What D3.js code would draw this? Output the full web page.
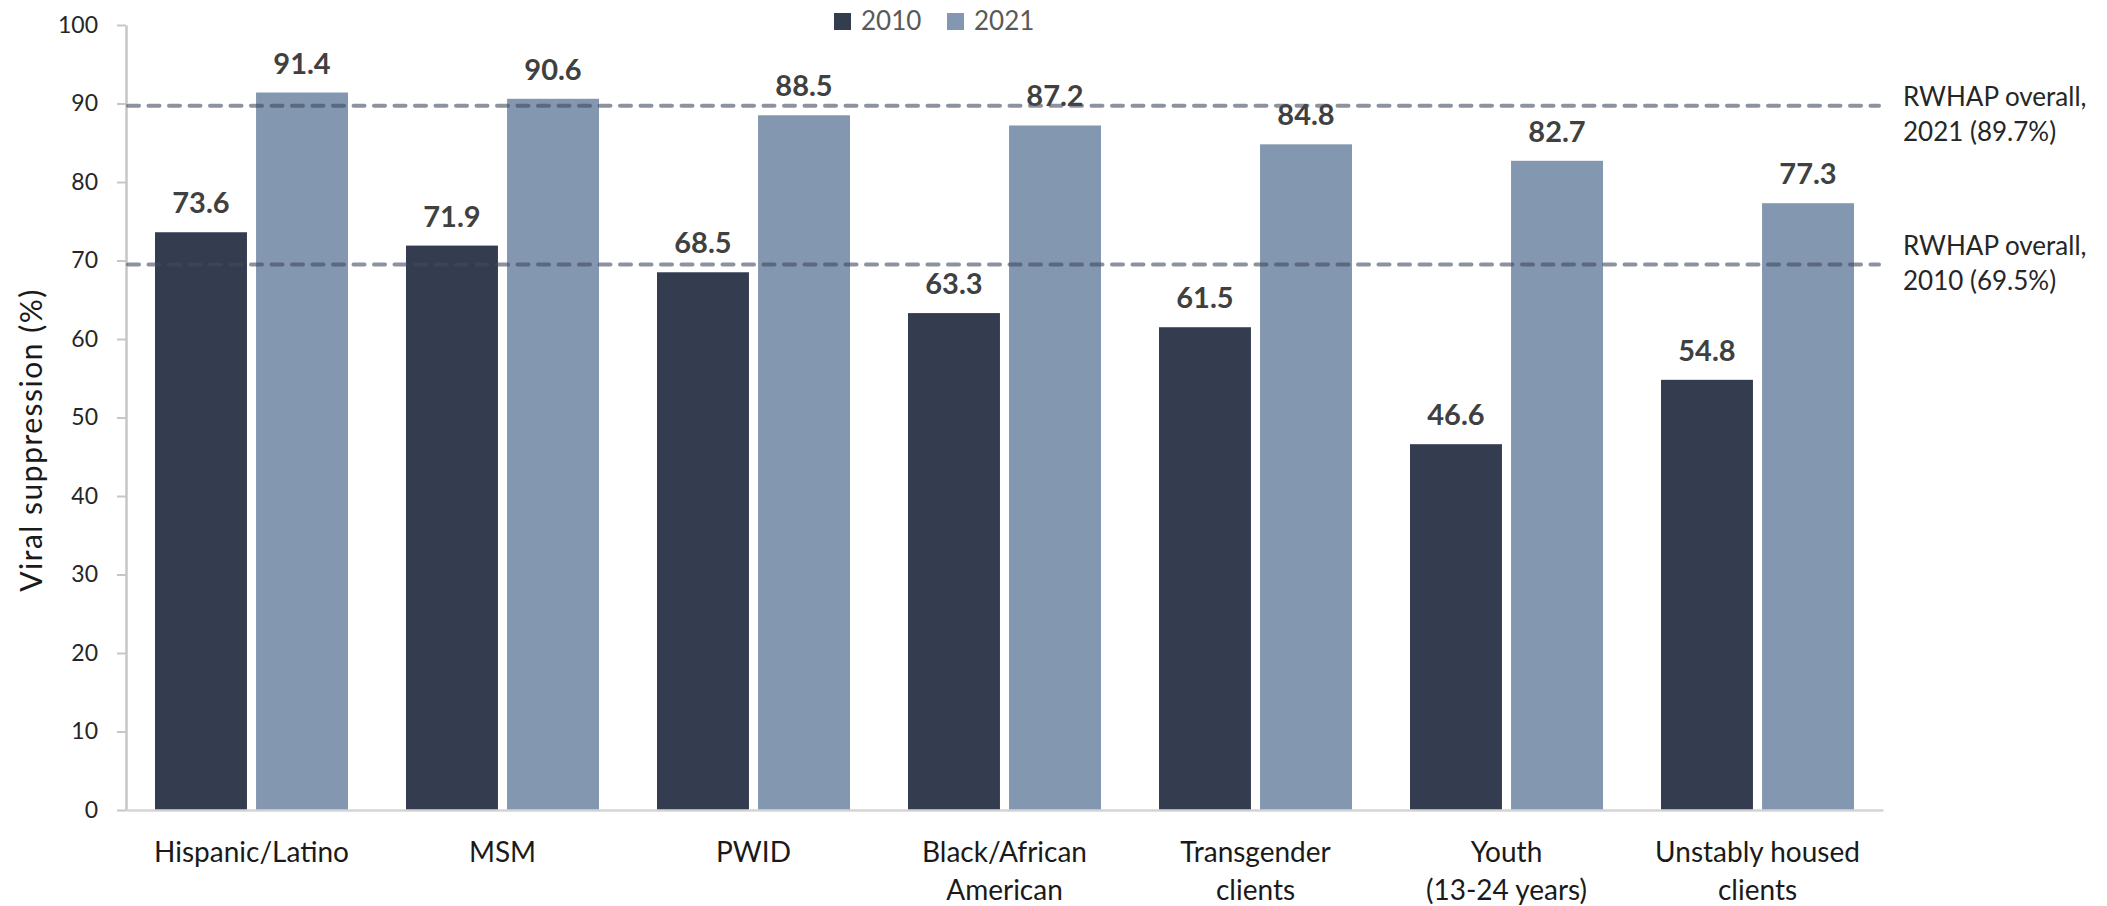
<!DOCTYPE html>
<html>
<head>
<meta charset="utf-8">
<script src="https://cdn.jsdelivr.net/npm/d3@7"></script>
<style>
  body { margin: 0; background: #fff; }
  svg { font-family: Lato, "Open Sans", sans-serif; }
</style>
</head>
<body>
<svg id="chart" width="2107" height="906"></svg>
<script>
// chart values
var categories = ['Hispanic/Latino', 'MSM', 'PWID', 'Black/African\nAmerican', 'Transgender\nclients', 'Youth\n(13-24 years)', 'Unstably housed\nclients'];
var series = ['2010', '2021'];
var values2010 = [73.6, 71.9, 68.5, 63.3, 61.5, 46.6, 54.8];
var values2021 = [91.4, 90.6, 88.5, 87.2, 84.8, 82.7, 77.3];
var refValues = [89.7, 69.5];
var refLabels = [['RWHAP overall,', '2021 (89.7%)'], ['RWHAP overall,', '2010 (69.5%)']];
var yTicks = [0, 10, 20, 30, 40, 50, 60, 70, 80, 90, 100];

var colors = {'2010': '#333d4f', '2021': '#8497b0'};

var svg = d3.select('#chart');

var x0 = d3.scaleBand().domain(categories).range([126, 1883]).padding(0);
var x1 = d3.scaleBand().domain(series).range([29, 222]).paddingInner(0.09);
var y = d3.scaleLinear().domain([0, 100]).range([810, 25]);

var rows = categories.map(function(c, i){
	return {cat: c, vals: [{s: '2010', v: values2010[i]}, {s: '2021', v: values2021[i]}]};
});

// y axis
var yAxis = svg.append('g')
	.attr('transform', 'translate(126,0)')
	.call(d3.axisLeft(y).tickValues(yTicks).tickSize(9).tickSizeOuter(0).tickPadding(19));
yAxis.select('.domain').attr('stroke', '#c6c6c6').attr('stroke-width', 2.5);
yAxis.selectAll('.tick line').attr('stroke', '#c6c6c6').attr('stroke-width', 2);
yAxis.selectAll('.tick text').attr('font-size', 23).attr('fill', '#262626').attr('font-family', 'Lato');

// bars
var groups = svg.append('g').selectAll('g')
	.data(rows)
	.enter()
	.append('g')
	.attr('transform', function(d){ return 'translate(' + x0(d.cat) + ',0)'; });

groups.selectAll('rect')
	.data(function(d){ return d.vals; })
	.enter()
	.append('rect')
	.attr('x', function(d){ return x1(d.s); })
	.attr('width', x1.bandwidth())
	.attr('y', function(d){ return y(d.v); })
	.attr('height', function(d){ return y(0) - y(d.v); })
	.attr('fill', function(d){ return colors[d.s]; });

groups.selectAll('.val')
	.data(function(d){ return d.vals; })
	.enter()
	.append('text')
	.attr('class', 'val')
	.attr('x', function(d){ return x1(d.s) + x1.bandwidth() / 2; })
	.attr('y', function(d){ return y(d.v) - 19; })
	.attr('text-anchor', 'middle')
	.attr('font-size', 29)
	.attr('font-weight', 'bold')
	.attr('fill', '#404040')
	.text(function(d){ return d.v.toFixed(1); });

// x axis
var xAxis = svg.append('g')
	.attr('transform', 'translate(0,810)')
	.call(d3.axisBottom(x0).tickSize(0).tickSizeOuter(0).tickFormat(''));
xAxis.select('.domain').attr('stroke', '#d4d4d4').attr('stroke-width', 2.5);

var catLabels = svg.append('g').selectAll('text')
	.data(categories)
	.enter()
	.append('text')
	.attr('text-anchor', 'middle')
	.attr('font-size', 28)
	.attr('fill', '#1a1a1a')
	.attr('transform', function(d){ return 'translate(' + (x0(d) + x0.bandwidth() / 2) + ',862)'; });
catLabels.selectAll('tspan')
	.data(function(d){ return d.split('\n'); })
	.enter()
	.append('tspan')
	.attr('x', 0)
	.attr('y', function(d, i){ return i * 38; })
	.text(function(d){ return d; });

// reference lines
svg.append('g').selectAll('line')
	.data(refValues)
	.enter()
	.append('line')
	.attr('x1', 128)
	.attr('x2', 1879)
	.attr('y1', function(d){ return y(d); })
	.attr('y2', function(d){ return y(d); })
	.attr('stroke', '#3f4b5f')
	.attr('stroke-opacity', 0.6)
	.attr('stroke-width', 4)
	.attr('stroke-linecap', 'round')
	.attr('stroke-dasharray', '11 9.5');

var labelShift = [0, -9];
var refText = svg.append('g').selectAll('text')
	.data(refLabels)
	.enter()
	.append('text')
	.attr('font-size', 26)
	.attr('fill', '#262626')
	.attr('transform', function(d, i){ return 'translate(1903,' + (y(refValues[i]) + labelShift[i]) + ')'; });
refText.selectAll('tspan')
	.data(function(d){ return d; })
	.enter()
	.append('tspan')
	.attr('x', 0)
	.attr('y', function(d, i){ return i * 35; })
	.text(function(d){ return d; });

// y title
svg.append('text')
	.attr('transform', 'translate(42,440) rotate(-90)')
	.attr('text-anchor', 'middle')
	.attr('font-size', 30)
	.attr('letter-spacing', 1.5)
	.attr('fill', '#1a1a1a')
	.text('Viral suppression (%)');

// legend
var legend = svg.append('g').selectAll('g')
	.data(series)
	.enter()
	.append('g')
	.attr('transform', function(d, i){ return 'translate(' + (834 + i * 113) + ',0)'; });
legend.append('rect')
	.attr('x', 0).attr('y', 13)
	.attr('width', 17).attr('height', 17)
	.attr('fill', function(d){ return colors[d]; });
legend.append('text')
	.attr('x', 27).attr('y', 30)
	.attr('font-size', 26)
	.attr('fill', '#595959')
	.text(function(d){ return d; });
</script>
</body>
</html>
